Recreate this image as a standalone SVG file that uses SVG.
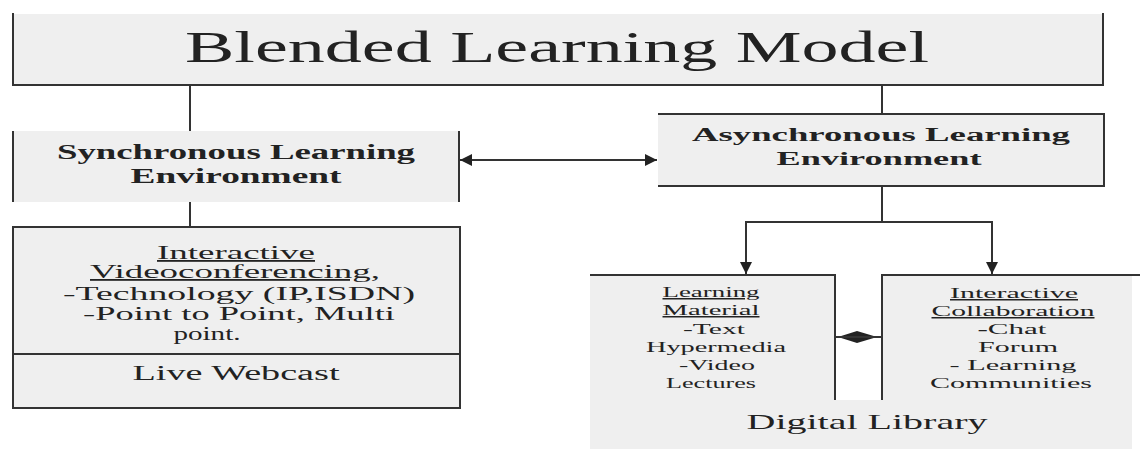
<svg xmlns="http://www.w3.org/2000/svg" width="1140" height="450" viewBox="0 0 1140 450">
<style>
.fill{fill:#efefef;stroke:none}
.ln{stroke:#333;stroke-width:2;fill:none}
.t{font-family:"Liberation Serif","Times New Roman",serif;fill:#222;text-anchor:middle}
.b{font-weight:bold}
.u{text-decoration:underline}
</style>
<defs>
<marker id="ah" viewBox="0 0 10 10" refX="10" refY="5" markerWidth="6" markerHeight="6" markerUnits="strokeWidth" orient="auto-start-reverse">
<path d="M0,0 L10,5 L0,10 z" fill="#222"/>
</marker>
</defs>
<rect width="1140" height="450" fill="#fff"/>

<g id="connectors">
<line class="ln" x1="190" y1="85" x2="190" y2="131"/>
<line class="ln" x1="882" y1="85" x2="882" y2="114"/>
<line class="ln" x1="190" y1="202" x2="190" y2="227"/>
<line class="ln" x1="460" y1="160" x2="657" y2="160" marker-start="url(#ah)" marker-end="url(#ah)"/>
<polyline class="ln" points="882,186 882,222"/>
<line class="ln" x1="745" y1="222" x2="993" y2="222"/>
<line class="ln" x1="746" y1="222" x2="746" y2="274" marker-end="url(#ah)"/>
<line class="ln" x1="992" y1="222" x2="992" y2="274" marker-end="url(#ah)"/>
<polygon points="838,337 857,331 877,337 857,343" fill="#222"/>
<line class="ln" x1="835" y1="337" x2="882" y2="337"/>
</g>

<g id="title">
<rect class="fill" x="13" y="14" width="1090" height="71"/>
<polyline class="ln" points="13,13 13,85 1103,85 1103,13"/>
<text class="t" x="557" y="62" font-size="45" textLength="744" lengthAdjust="spacingAndGlyphs">Blended Learning Model</text>
</g>

<g id="sync">
<rect class="fill" x="13" y="131" width="446" height="71"/>
<line class="ln" x1="13" y1="131" x2="13" y2="202"/>
<line class="ln" x1="459" y1="131" x2="459" y2="202"/>
<text class="t b" x="236" y="159" font-size="20" textLength="358" lengthAdjust="spacingAndGlyphs">Synchronous Learning</text>
<text class="t b" x="236" y="183" font-size="20" textLength="211" lengthAdjust="spacingAndGlyphs">Environment</text>
</g>

<g id="async">
<rect class="fill" x="658" y="114" width="446" height="72"/>
<polyline class="ln" points="658,114 1104,114 1104,186 658,186"/>
<text class="t b" x="881" y="141" font-size="18" textLength="378" lengthAdjust="spacingAndGlyphs">Asynchronous Learning</text>
<text class="t b" x="879" y="165" font-size="18" textLength="205" lengthAdjust="spacingAndGlyphs">Environment</text>
</g>

<g id="video">
<rect class="fill" x="13" y="227" width="447" height="181"/>
<rect class="ln" x="13" y="227" width="447" height="181"/>
<line class="ln" x1="13" y1="354" x2="460" y2="354"/>
<text class="t u" x="236" y="259" font-size="18" textLength="158" lengthAdjust="spacingAndGlyphs">Interactive</text>
<text class="t u" x="235" y="278" font-size="18" textLength="290" lengthAdjust="spacingAndGlyphs">Videoconferencing,</text>
<text class="t" x="239" y="300" font-size="18" textLength="352" lengthAdjust="spacingAndGlyphs">-Technology (IP,ISDN)</text>
<text class="t" x="239" y="320" font-size="18" textLength="312" lengthAdjust="spacingAndGlyphs">-Point to Point, Multi</text>
<text class="t" x="207" y="340" font-size="18" textLength="67" lengthAdjust="spacingAndGlyphs">point.</text>
</g>

<g id="webcast">
<text class="t" x="236" y="380" font-size="20" textLength="207" lengthAdjust="spacingAndGlyphs">Live Webcast</text>
</g>

<g id="library">
<rect class="fill" x="590" y="275" width="245" height="174"/>
<rect class="fill" x="882" y="275" width="250" height="174"/>
<rect class="fill" x="590" y="400" width="542" height="49"/>
<text class="t" x="867" y="429" font-size="22" textLength="241" lengthAdjust="spacingAndGlyphs">Digital Library</text>
</g>

<g id="material">
<polyline class="ln" points="590,275 835,275 835,400"/>
<text class="t u" x="711" y="297" font-size="15" textLength="97" lengthAdjust="spacingAndGlyphs">Learning</text>
<text class="t u" x="711" y="315" font-size="15" textLength="97" lengthAdjust="spacingAndGlyphs">Material</text>
<text class="t" x="714" y="334" font-size="15" textLength="62" lengthAdjust="spacingAndGlyphs">-Text</text>
<text class="t" x="716" y="352" font-size="15" textLength="140" lengthAdjust="spacingAndGlyphs">Hypermedia</text>
<text class="t" x="717" y="370" font-size="15" textLength="76" lengthAdjust="spacingAndGlyphs">-Video</text>
<text class="t" x="711" y="388" font-size="15" textLength="90" lengthAdjust="spacingAndGlyphs">Lectures</text>
</g>

<g id="collab">
<polyline class="ln" points="1140,275 882,275 882,400"/>
<text class="t u" x="1014" y="298" font-size="15" textLength="128" lengthAdjust="spacingAndGlyphs">Interactive</text>
<text class="t u" x="1013" y="316" font-size="15" textLength="163" lengthAdjust="spacingAndGlyphs">Collaboration</text>
<text class="t" x="1012" y="334" font-size="15" textLength="69" lengthAdjust="spacingAndGlyphs">-Chat</text>
<text class="t" x="1018" y="352" font-size="15" textLength="80" lengthAdjust="spacingAndGlyphs">Forum</text>
<text class="t" x="1013" y="370" font-size="15" textLength="127" lengthAdjust="spacingAndGlyphs">- Learning</text>
<text class="t" x="1011" y="388" font-size="15" textLength="162" lengthAdjust="spacingAndGlyphs">Communities</text>
</g>
</svg>
